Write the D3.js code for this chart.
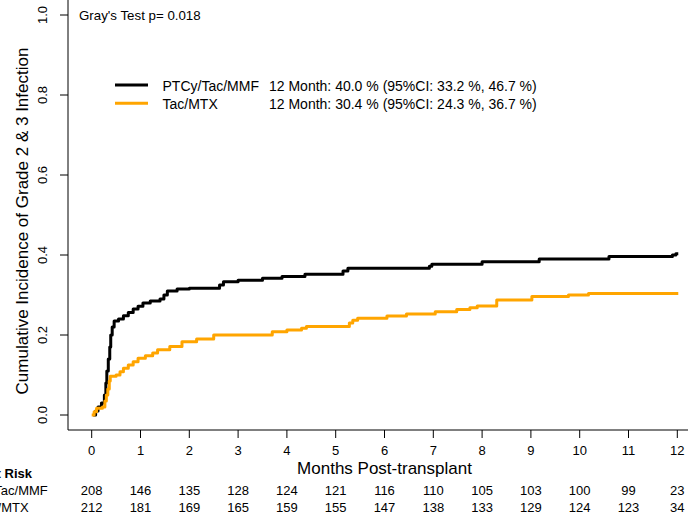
<!DOCTYPE html>
<html>
<head>
<meta charset="utf-8">
<script src="https://cdn.jsdelivr.net/npm/d3@7"></script>
<style>
  html, body { margin: 0; padding: 0; background: #fff; }
  svg { display: block; font-family: "Liberation Sans", Arial, sans-serif; }
</style>
</head>
<body>
<svg id="chart" width="688" height="515"></svg>
<script>
// ---- Data ----
const groups = ["PTCy/Tac/MMF", "Tac/MTX"];
const groupColors = ["#000000", "#FFA500"];
const legendStats = [
  "12 Month: 40.0 % (95%CI: 33.2 %, 46.7 %)",
  "12 Month: 30.4 % (95%CI: 24.3 %, 36.7 %)"
];
const testLabel = "Gray's Test p= 0.018";
const xTicks = [0,1,2,3,4,5,6,7,8,9,10,11,12];
const yTicks = [0, 0.2, 0.4, 0.6, 0.8, 1.0];
const riskPTCy = [208,146,135,128,124,121,116,110,105,103,100,99,23];
const riskTacMTX = [212,181,169,165,159,155,147,138,133,129,124,123,34];

// step function events: [month, cumulative incidence]
const cifPTCy = [
  [0.03,0],[0.08,0.01],[0.13,0.02],[0.2,0.03],[0.26,0.05],[0.29,0.08],[0.31,0.11],
  [0.34,0.14],[0.37,0.17],[0.39,0.2],[0.42,0.22],[0.46,0.235],[0.55,0.24],[0.65,0.248],
  [0.75,0.256],[0.85,0.265],[0.95,0.272],[1.05,0.28],[1.2,0.285],[1.4,0.29],[1.48,0.3],
  [1.55,0.31],[1.75,0.315],[2.0,0.317],[2.62,0.325],[2.7,0.333],[3.0,0.337],[3.5,0.342],
  [3.9,0.346],[4.37,0.352],[5.15,0.36],[5.25,0.367],[6.92,0.372],[6.97,0.377],
  [8.0,0.383],[9.17,0.39],[10.6,0.396],[11.9,0.4],[11.97,0.403],[12.02,0.403]
];
const cifTacMTX = [
  [0,0],[0.05,0.008],[0.1,0.017],[0.22,0.02],[0.27,0.035],[0.3,0.05],[0.33,0.065],
  [0.36,0.085],[0.38,0.097],[0.5,0.1],[0.58,0.108],[0.65,0.117],[0.75,0.125],[0.85,0.133],
  [0.95,0.142],[1.1,0.148],[1.25,0.155],[1.35,0.163],[1.6,0.171],[1.85,0.183],[2.15,0.19],
  [2.5,0.2],[3.7,0.208],[4.0,0.2125],[4.3,0.217],[4.4,0.221],[5.28,0.23],[5.35,0.237],
  [5.45,0.242],[6.05,0.2475],[6.45,0.2525],[7.04,0.258],[7.48,0.264],[7.75,0.268],
  [7.9,0.2725],[8.3,0.2875],[9.02,0.296],[9.77,0.3],[10.18,0.304],[12.02,0.304]
];

// ---- Layout ----
const svg = d3.select("#chart");
const x = d3.scaleLinear().domain([0, 12]).range([91.7, 677.3]);
const y = d3.scaleLinear().domain([0, 1]).range([415, 15]);
const axisX = 68, axisY = 430;

// axis lines (L-shaped box)
svg.append("line").attr("x1", axisX).attr("x2", axisX).attr("y1", 0).attr("y2", axisY)
  .attr("stroke", "#000").attr("stroke-width", 1);
svg.append("line").attr("x1", axisX).attr("x2", 688).attr("y1", axisY).attr("y2", axisY)
  .attr("stroke", "#000").attr("stroke-width", 1);

// y ticks
const yg = svg.append("g");
yTicks.forEach(t => {
  yg.append("line").attr("x1", axisX - 8).attr("x2", axisX).attr("y1", y(t)).attr("y2", y(t))
    .attr("stroke", "#000");
  yg.append("text").attr("transform", `translate(47,${y(t)}) rotate(-90)`)
    .attr("text-anchor", "middle").attr("font-size", 13).attr("fill", "#000")
    .text(d3.format(".1f")(t));
});

// x ticks
const xg = svg.append("g");
xTicks.forEach(t => {
  xg.append("line").attr("x1", x(t)).attr("x2", x(t)).attr("y1", axisY).attr("y2", axisY + 8)
    .attr("stroke", "#000");
  xg.append("text").attr("x", x(t)).attr("y", 455).attr("text-anchor", "middle")
    .attr("font-size", 13).attr("fill", "#000").text(t);
});

// axis titles
svg.append("text").attr("x", (x(0) + x(12)) / 2).attr("y", 474).attr("text-anchor", "middle")
  .attr("font-size", 17).attr("fill", "#000").text("Months Post-transplant");
svg.append("text").attr("transform", "translate(27.5,221) rotate(-90)").attr("text-anchor", "middle")
  .attr("font-size", 17).attr("fill", "#000").text("Cumulative Incidence of Grade 2 & 3 Infection");

// curves
const line = d3.line().x(d => x(d[0])).y(d => y(d[1])).curve(d3.curveStepAfter);
[cifPTCy, cifTacMTX].forEach((data, i) => {
  svg.append("path").datum(data).attr("d", line).attr("fill", "none")
    .attr("stroke", groupColors[i]).attr("stroke-width", 3).attr("stroke-linejoin", "round");
});

// test label
svg.append("text").attr("x", 79).attr("y", 20).attr("font-size", 13.3).attr("fill", "#000").text(testLabel);

// legend
const legY = [85, 103.3];
groups.forEach((g, i) => {
  svg.append("line").attr("x1", 115).attr("x2", 148).attr("y1", legY[i]).attr("y2", legY[i])
    .attr("stroke", groupColors[i]).attr("stroke-width", 3);
  svg.append("text").attr("x", 162.5).attr("y", legY[i] + 5.5).attr("font-size", 14)
    .attr("fill", "#000").text(g);
  svg.append("text").attr("x", 269).attr("y", legY[i] + 5.5).attr("font-size", 14)
    .attr("fill", "#000").text(legendStats[i]);
});

// risk table
svg.append("text").attr("x", 32).attr("y", 478).attr("text-anchor", "end")
  .attr("font-size", 13).attr("font-weight", "bold").attr("fill", "#000").text("At Risk");
const riskRows = [riskPTCy, riskTacMTX];
const riskY = [495, 511.5];
riskRows.forEach((row, i) => {
  svg.append("text").attr("x", 3).attr("y", riskY[i]).attr("text-anchor", "middle")
    .attr("font-size", 13).attr("fill", "#000").text(groups[i]);
  row.forEach((n, j) => {
    svg.append("text").attr("x", x(xTicks[j])).attr("y", riskY[i]).attr("text-anchor", "middle")
      .attr("font-size", 13).attr("fill", "#000").text(n);
  });
});
</script>
</body>
</html>
